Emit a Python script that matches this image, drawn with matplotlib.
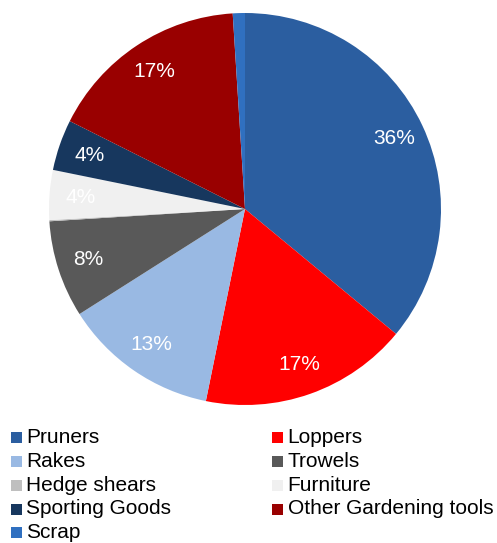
import matplotlib
matplotlib.use("Agg")
import matplotlib.pyplot as plt
from matplotlib.patches import Rectangle

plt.rcParams['font.family'] = ['Liberation Sans', 'DejaVu Sans']

# Share of items by category (percent), clockwise from 12 o'clock
categories = ["Pruners", "Loppers", "Rakes", "Trowels", "Hedge shears",
              "Furniture", "Sporting Goods", "Other Gardening tools", "Scrap"]
shares = [36.0, 17.2, 12.8, 8.0, 0.1, 4.1, 4.2, 16.6, 1.0]
colors = ["#2B5EA0", "#FF0000", "#99B9E3", "#595959", "#BFBFBF",
          "#F0F0F0", "#17375E", "#990000", "#3070C0"]

# Legend layout order (two columns, filled row by row)
legend_order = ["Pruners", "Loppers", "Rakes", "Trowels", "Hedge shears",
                "Furniture", "Sporting Goods", "Other Gardening tools", "Scrap"]

W, H = 497, 543
fig = plt.figure(figsize=(W / 100, H / 100), dpi=100)

cx, cy, r = 245, 209, 196
ax = fig.add_axes([(cx - r) / W, 1 - (cy + r) / H, 2 * r / W, 2 * r / H])


def pct_label(p):
    return f"{p:.0f}%" if p >= 2 else ""


wedges, texts, autotexts = ax.pie(
    shares, colors=colors, startangle=90, counterclock=False,
    autopct=pct_label, pctdistance=0.84, radius=1,
    wedgeprops=dict(linewidth=0),
    textprops=dict(color="white", fontsize=15))
ax.set_xlim(-1, 1)
ax.set_ylim(-1, 1)
ax.set_aspect("auto")
ax.axis("off")

# Legend drawn as swatches and labels below the pie
color_of = dict(zip(categories, colors))
col_x = [11, 272]
baselines = [443, 467, 491, 514.5, 538]
for i, name in enumerate(legend_order):
    row, col = divmod(i, 2)
    x0 = col_x[col]
    yb = baselines[row]
    fig.add_artist(Rectangle((x0 / W, 1 - yb / H), 11 / W, 11 / H,
                             transform=fig.transFigure,
                             facecolor=color_of[name], edgecolor="none"))
    fig.text((x0 + 15.5) / W, 1 - yb / H, name, fontsize=15,
             color="black", va="baseline", ha="left")

fig.savefig("out.png", dpi=100)
